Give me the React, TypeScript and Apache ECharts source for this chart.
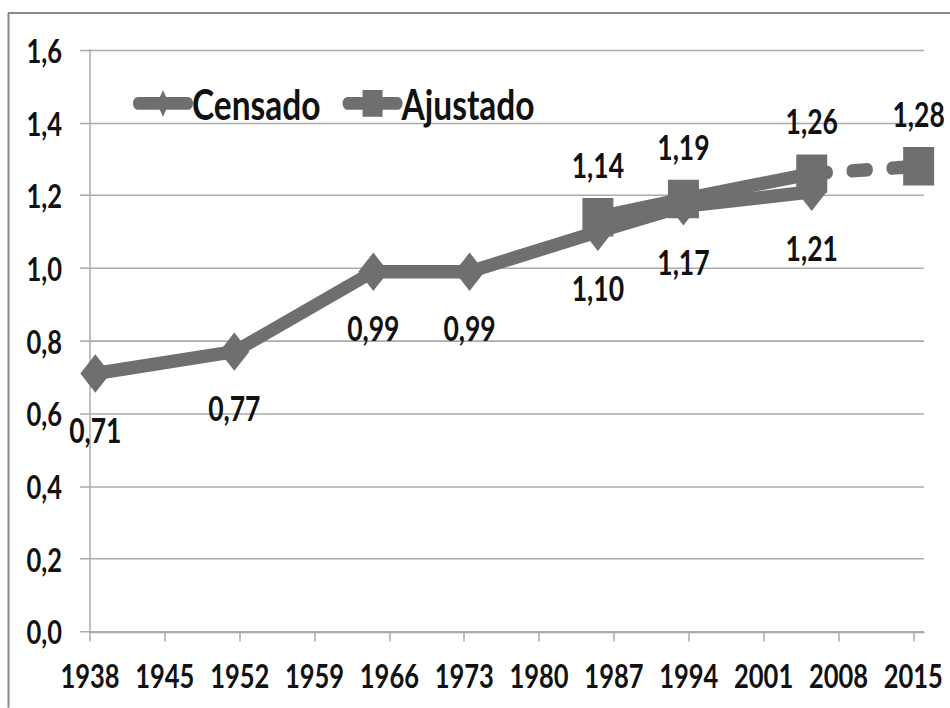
import React, { useEffect, useRef } from "react";
import * as echarts from "echarts";

const tickYears = [1938, 1945, 1952, 1959, 1966, 1973, 1980, 1987, 1994, 2001, 2008, 2015];
const censadoYears = [1938, 1951, 1964, 1973, 1985, 1993, 2005];
const censadoValues = [0.71, 0.77, 0.99, 0.99, 1.1, 1.17, 1.21];
const ajustadoYears = [1985, 1993, 2005];
const ajustadoValues = [1.14, 1.19, 1.26];
const proyeccionYears = [2005, 2015];
const proyeccionValues = [1.26, 1.28];

const FONT = "Lato, 'Noto Sans', sans-serif";
const GRAY = "#6f6f6f";
const AXIS = "#ababab";
// the reference picture is vertically stretched; render then stretch the same way
const K = 1.28;
const W = 950;
const H = 708 / K;
// date axis: each year is a band starting at its tick, points sit mid-band
const MID = 0.5;

const fmt = (v: number) => v.toFixed(2).replace(".", ",");
const pts = (years: number[], vals: number[]) => years.map((y, i) => [y + MID, vals[i]]);

const iconCensado =
  "path://M5,5.5 L55,5.5 A5,5 0 0 1 55,15.5 L5,15.5 A5,5 0 0 1 5,5.5 Z M30,0 L36,10.5 L30,21 L24,10.5 Z";
const iconAjustado =
  "path://M5,5.5 L55,5.5 A5,5 0 0 1 55,15.5 L5,15.5 A5,5 0 0 1 5,5.5 Z M20,0 L40,0 L40,21 L20,21 Z";

export default function App() {
  const ref = useRef<HTMLDivElement>(null);
  useEffect(() => {
    if (!ref.current) return;
    const chart = echarts.init(ref.current, undefined, { renderer: "svg" });
    const labelStyle = {
      show: true,
      fontFamily: FONT,
      fontWeight: "bold" as const,
      fontSize: 26.5,
      color: "#111",
    };
    const proy = pts(proyeccionYears, proyeccionValues);
    chart.setOption({
      animation: false,
      backgroundColor: "#fff",
      grid: { left: 90, right: 26, top: 50 / K, bottom: H - 631.7 / K, containLabel: false },
      legend: {
        data: [
          { name: "Censado", icon: iconCensado },
          { name: "Ajustado", icon: iconAjustado },
        ],
        left: 128,
        top: 97 / K - 17,
        itemWidth: 60,
        itemHeight: 21,
        itemGap: 22,
        itemStyle: { color: GRAY },
        textStyle: { fontFamily: FONT, fontWeight: "bold", fontSize: 33.5, color: "#111", padding: [0, 0, 0, -6] },
      },
      graphic: [
        { type: "line", shape: { x1: 8, y1: 13 / K, x2: W, y2: 13 / K }, style: { stroke: "#8a8a8a", lineWidth: 1.6 } },
        { type: "line", shape: { x1: 8.5, y1: 13 / K, x2: 8.5, y2: H }, style: { stroke: "#8a8a8a", lineWidth: 2 } },
      ],
      xAxis: {
        type: "value",
        min: 1938,
        max: 2016,
        interval: 7,
        splitLine: { show: false },
        axisLine: { show: true, lineStyle: { color: AXIS, width: 1.5 } },
        axisTick: { show: true, length: 10 / K, customValues: tickYears, lineStyle: { color: AXIS, width: 1.5 } },
        axisLabel: {
          customValues: tickYears,
          margin: 21,
          fontFamily: FONT,
          fontWeight: "bold",
          fontSize: 25.5,
          color: "#111",
          formatter: (v: number) => String(v),
        },
      },
      yAxis: {
        type: "value",
        min: 0,
        max: 1.6,
        interval: 0.2,
        axisLine: { show: true, lineStyle: { color: AXIS, width: 1.5 } },
        axisTick: { show: true, length: 10, lineStyle: { color: AXIS, width: 1.2 } },
        splitLine: { show: true, lineStyle: { color: AXIS, width: 1.2 } },
        axisLabel: {
          margin: 28,
          fontFamily: FONT,
          fontWeight: "bold",
          fontSize: 25.5,
          color: "#111",
          formatter: (v: number) => v.toFixed(1).replace(".", ","),
        },
      },
      series: [
        {
          name: "Censado",
          type: "line",
          data: pts(censadoYears, censadoValues),
          symbol: "diamond",
          symbolSize: [30, 30],
          lineStyle: { color: GRAY, width: 10.5 },
          itemStyle: { color: GRAY },
          label: { ...labelStyle, position: "bottom", distance: 15, formatter: (p: any) => fmt(p.value[1]) },
          z: 2,
        },
        {
          name: "Ajustado",
          type: "line",
          data: pts(ajustadoYears, ajustadoValues),
          symbol: "rect",
          symbolSize: [31, 30],
          lineStyle: { color: GRAY, width: 10.5 },
          itemStyle: { color: GRAY },
          label: { ...labelStyle, position: "top", distance: 12.5, formatter: (p: any) => fmt(p.value[1]) },
          z: 3,
        },
        {
          name: "Ajustado proyectado",
          type: "line",
          data: proy.map((v, i) =>
            i === 0 ? { value: v, symbol: "none", label: { show: false } } : { value: v }
          ),
          symbol: "rect",
          symbolSize: [31, 30],
          lineStyle: { color: GRAY, width: 10.5, type: [16, 24], cap: "round" },
          itemStyle: { color: GRAY },
          label: { ...labelStyle, position: "top", distance: 12.5, formatter: (p: any) => fmt(p.value[1]) },
          z: 3,
        },
      ],
    });
    return () => chart.dispose();
  }, []);
  return (
    <div
      style={{ position: "fixed", left: 0, top: 0, width: W, height: 708, overflow: "hidden", background: "#fff" }}
    >
      <div
        ref={ref}
        style={{ width: W, height: H, transform: `scaleY(${K})`, transformOrigin: "0 0" }}
      />
    </div>
  );
}
